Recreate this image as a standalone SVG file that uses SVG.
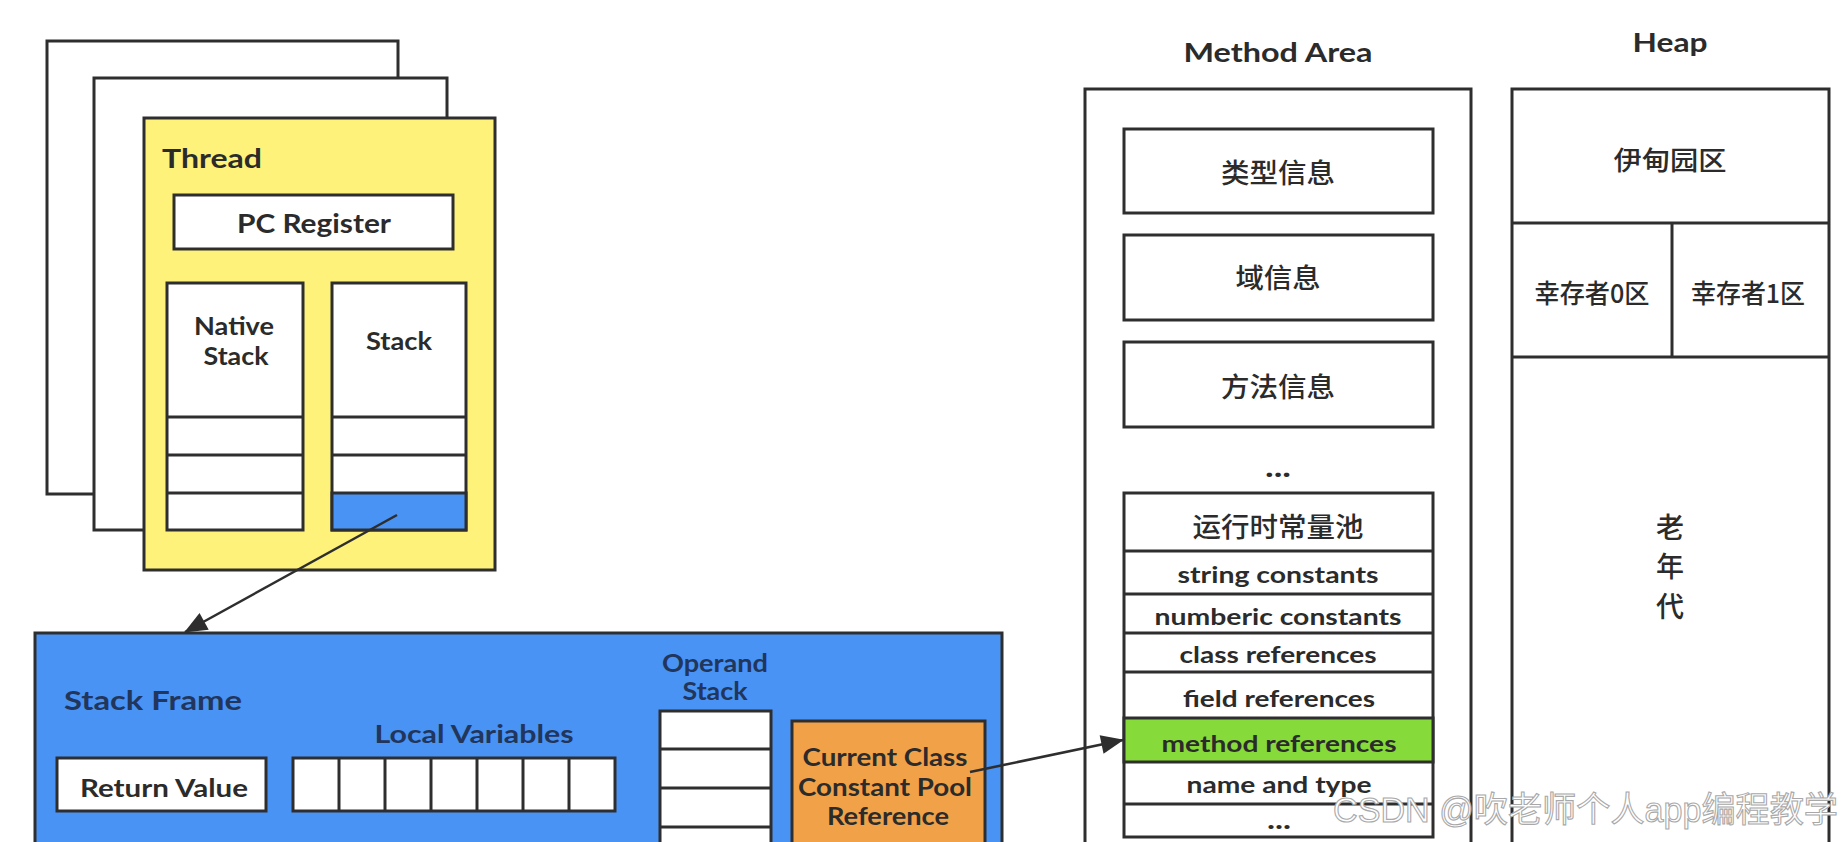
<svg xmlns="http://www.w3.org/2000/svg" width="1848" height="842" viewBox="0 0 1848 842">
<style>
.bx{stroke:#2e2e2e;stroke-width:3;fill:#fff}
.ln{stroke:#2e2e2e;stroke-width:3;fill:none}
.t{font-family:Lato,"Open Sans","Liberation Sans",sans-serif;font-weight:700;fill:#2b2b2b;text-anchor:middle}
.tb{font-family:Lato,"Open Sans","Liberation Sans",sans-serif;font-weight:700;fill:#22355a;text-anchor:middle}
.cj{font-family:"Noto Sans CJK SC",sans-serif;font-weight:500;fill:#2b2b2b;text-anchor:middle}
.wm{font-family:"Liberation Sans","Noto Sans CJK SC",sans-serif;font-weight:400;fill:#ffffff;stroke:#a8a8a8;stroke-width:1.1}
</style>
<defs>
<marker id="ah" viewBox="0 0 12 10" refX="11.5" refY="5" markerWidth="24" markerHeight="19" markerUnits="userSpaceOnUse" orient="auto">
<path d="M0,0 L12,5 L0,10 Z" fill="#2e2e2e"/>
</marker>
</defs>
<rect width="1848" height="842" fill="#fff"/>

<g id="thread-back1"><rect class="bx" x="47" y="41" width="351" height="453"/></g>
<g id="thread-back2"><rect class="bx" x="94" y="78" width="353" height="452"/></g>
<g id="thread">
<rect class="bx" x="144" y="118" width="351" height="452" style="fill:#fef27a"/>
<text class="t" x="162" y="168" font-size="27" style="text-anchor:start" textLength="100" lengthAdjust="spacingAndGlyphs">Thread</text>
</g>
<g id="pc-register">
<rect class="bx" x="174" y="195" width="279" height="54"/>
<text class="t" x="314" y="233" font-size="26" textLength="154" lengthAdjust="spacingAndGlyphs">PC Register</text>
</g>
<g id="native-stack">
<rect class="bx" x="167" y="283" width="136" height="247"/>
<line class="ln" x1="167" y1="417" x2="303" y2="417"/>
<line class="ln" x1="167" y1="455" x2="303" y2="455"/>
<line class="ln" x1="167" y1="493" x2="303" y2="493"/>
<text class="t" x="234" y="335" font-size="24" textLength="80" lengthAdjust="spacingAndGlyphs">Native</text>
<text class="t" x="236" y="365" font-size="24" textLength="65" lengthAdjust="spacingAndGlyphs">Stack</text>
</g>
<g id="stack">
<rect class="bx" x="332" y="283" width="134" height="247"/>
<rect x="332" y="493" width="134" height="37" fill="#4893f4" stroke="#2e2e2e" stroke-width="3"/>
<line class="ln" x1="332" y1="417" x2="466" y2="417"/>
<line class="ln" x1="332" y1="455" x2="466" y2="455"/>
<text class="t" x="399" y="350" font-size="24" textLength="66" lengthAdjust="spacingAndGlyphs">Stack</text>
</g>

<g id="stack-frame">
<rect x="35" y="633" width="967" height="230" fill="#4893f4" stroke="#2e2e2e" stroke-width="3"/>
<text class="tb" x="64" y="710" font-size="26" style="text-anchor:start" textLength="178" lengthAdjust="spacingAndGlyphs">Stack Frame</text>
</g>
<g id="return-value">
<rect class="bx" x="57" y="758" width="209" height="53"/>
<text class="t" x="164" y="797" font-size="24" textLength="168" lengthAdjust="spacingAndGlyphs">Return Value</text>
</g>
<g id="local-variables">
<text class="tb" x="474" y="743" font-size="25" textLength="199" lengthAdjust="spacingAndGlyphs">Local Variables</text>
<rect class="bx" x="293" y="758" width="322" height="53"/>
<line class="ln" x1="339" y1="758" x2="339" y2="811"/>
<line class="ln" x1="385" y1="758" x2="385" y2="811"/>
<line class="ln" x1="431" y1="758" x2="431" y2="811"/>
<line class="ln" x1="477" y1="758" x2="477" y2="811"/>
<line class="ln" x1="523" y1="758" x2="523" y2="811"/>
<line class="ln" x1="569" y1="758" x2="569" y2="811"/>
</g>
<g id="operand-stack">
<text class="tb" x="715" y="672" font-size="24" textLength="106" lengthAdjust="spacingAndGlyphs">Operand</text>
<text class="tb" x="715" y="700" font-size="24" textLength="65" lengthAdjust="spacingAndGlyphs">Stack</text>
<rect class="bx" x="660" y="711" width="111" height="150"/>
<line class="ln" x1="660" y1="749" x2="771" y2="749"/>
<line class="ln" x1="660" y1="788" x2="771" y2="788"/>
<line class="ln" x1="660" y1="827" x2="771" y2="827"/>
</g>
<g id="constant-pool-ref">
<rect x="792" y="721" width="193" height="140" fill="#f1a248" stroke="#2e2e2e" stroke-width="3"/>
<text class="t" x="885" y="766" font-size="24" textLength="165" lengthAdjust="spacingAndGlyphs">Current Class</text>
<text class="t" x="885" y="796" font-size="24" textLength="174" lengthAdjust="spacingAndGlyphs">Constant Pool</text>
<text class="t" x="888" y="825" font-size="24" textLength="122" lengthAdjust="spacingAndGlyphs">Reference</text>
</g>

<g id="method-area">
<text class="t" x="1278" y="62" font-size="27" textLength="189" lengthAdjust="spacingAndGlyphs">Method Area</text>
<rect class="bx" x="1085" y="89" width="386" height="780"/>
</g>
<g id="type-info">
<rect class="bx" x="1124" y="129" width="309" height="84"/>
<text class="cj" x="1278" y="183" font-size="27" textLength="114" lengthAdjust="spacingAndGlyphs">类型信息</text>
</g>
<g id="field-info">
<rect class="bx" x="1124" y="235" width="309" height="85"/>
<text class="cj" x="1278" y="288" font-size="27" textLength="85" lengthAdjust="spacingAndGlyphs">域信息</text>
</g>
<g id="method-info">
<rect class="bx" x="1124" y="342" width="309" height="85"/>
<text class="cj" x="1278" y="397" font-size="27" textLength="114" lengthAdjust="spacingAndGlyphs">方法信息</text>
</g>
<g id="ellipsis-1"><text class="t" x="1278" y="477" font-size="28" textLength="26" lengthAdjust="spacingAndGlyphs">...</text></g>
<g id="runtime-constant-pool">
<rect class="bx" x="1124" y="493" width="309" height="344"/>
<rect x="1124" y="718" width="309" height="44" fill="#86da3a" stroke="#2e2e2e" stroke-width="3"/>
<line class="ln" x1="1124" y1="551" x2="1433" y2="551"/>
<line class="ln" x1="1124" y1="594" x2="1433" y2="594"/>
<line class="ln" x1="1124" y1="633" x2="1433" y2="633"/>
<line class="ln" x1="1124" y1="672" x2="1433" y2="672"/>
<line class="ln" x1="1124" y1="804" x2="1433" y2="804"/>
<text class="cj" x="1278" y="537" font-size="27" textLength="171" lengthAdjust="spacingAndGlyphs">运行时常量池</text>
<text class="t" x="1278" y="583" font-size="23" textLength="201" lengthAdjust="spacingAndGlyphs">string constants</text>
<text class="t" x="1278" y="625" font-size="23" textLength="247" lengthAdjust="spacingAndGlyphs">numberic constants</text>
<text class="t" x="1278" y="663" font-size="23" textLength="197" lengthAdjust="spacingAndGlyphs">class references</text>
<text class="t" x="1279" y="707" font-size="23" textLength="192" lengthAdjust="spacingAndGlyphs">field references</text>
<text class="t" x="1279" y="752" font-size="23" textLength="235" lengthAdjust="spacingAndGlyphs">method references</text>
<text class="t" x="1279" y="793" font-size="23" textLength="185" lengthAdjust="spacingAndGlyphs">name and type</text>
<text class="t" x="1279" y="829" font-size="26" textLength="24" lengthAdjust="spacingAndGlyphs">...</text>
</g>

<g id="heap">
<text class="t" x="1670" y="52" font-size="27" textLength="75" lengthAdjust="spacingAndGlyphs">Heap</text>
<rect class="bx" x="1512" y="89" width="317" height="780"/>
</g>
<g id="eden">
<line class="ln" x1="1512" y1="223" x2="1829" y2="223"/>
<text class="cj" x="1670" y="170" font-size="26" textLength="113" lengthAdjust="spacingAndGlyphs">伊甸园区</text>
</g>
<g id="survivor0">
<line class="ln" x1="1512" y1="357" x2="1829" y2="357"/>
<line class="ln" x1="1672" y1="223" x2="1672" y2="357"/>
<text class="cj" x="1592" y="303" font-size="26" textLength="115" lengthAdjust="spacingAndGlyphs">幸存者0区</text>
</g>
<g id="survivor1">
<text class="cj" x="1748" y="303" font-size="26" textLength="114" lengthAdjust="spacingAndGlyphs">幸存者1区</text>
</g>
<g id="old-gen">
<text class="cj" x="1670" y="538" font-size="28">老</text>
<text class="cj" x="1670" y="577" font-size="28">年</text>
<text class="cj" x="1670" y="617" font-size="28">代</text>
</g>

<g id="connectors">
<line x1="397" y1="515" x2="185" y2="632" stroke="#2e2e2e" stroke-width="2.5" marker-end="url(#ah)"/>
<line x1="970" y1="772" x2="1123" y2="740" stroke="#2e2e2e" stroke-width="2.5" marker-end="url(#ah)"/>
</g>

<text class="wm" x="1333" y="822" font-size="35" textLength="505" lengthAdjust="spacingAndGlyphs">CSDN @吹老师个人app编程教学</text>
</svg>
